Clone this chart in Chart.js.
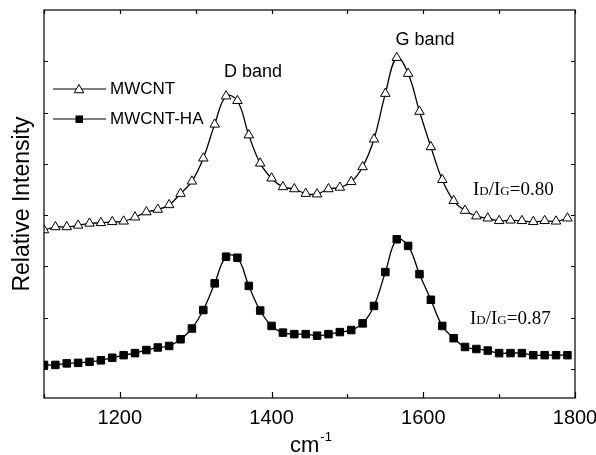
<!DOCTYPE html>
<html>
<head>
<meta charset="utf-8">
<script src="https://cdn.jsdelivr.net/npm/chart.js@4.4.0/dist/chart.umd.min.js"></script>
<style>
    html, body { margin: 0; padding: 0; background: #fff; }
</style>
</head>
<body>
<canvas id="ramanChart" width="596" height="455"></canvas>
<script>
// Raman shift (cm-1) sampled every 15 cm-1
const wavenumbers = [
    1100, 1115, 1130, 1145, 1160, 1175, 1190, 1205, 1220, 1235, 1250, 1265,
    1280, 1295, 1310, 1325, 1340, 1355, 1370, 1385, 1400, 1415, 1430, 1445,
    1460, 1475, 1490, 1505, 1520, 1535, 1550, 1565, 1580, 1595, 1610, 1625,
    1640, 1655, 1670, 1685, 1700, 1715, 1730, 1745, 1760, 1775, 1790
];

const mwcnt = [
    2.71, 2.77, 2.77, 2.80, 2.84, 2.85, 2.87, 2.88, 2.96, 3.06, 3.11, 3.20,
    3.42, 3.66, 4.11, 4.77, 5.32, 5.23, 4.56, 4.01, 3.72, 3.55, 3.51, 3.42,
    3.41, 3.51, 3.54, 3.65, 3.94, 4.48, 5.37, 6.07, 5.76, 5.02, 4.33, 3.69,
    3.28, 3.09, 2.98, 2.94, 2.89, 2.90, 2.89, 2.87, 2.89, 2.88, 2.94
];

const mwcntHa = [
    0.08, 0.08, 0.11, 0.12, 0.14, 0.17, 0.22, 0.27, 0.31, 0.37, 0.42, 0.45,
    0.58, 0.79, 1.15, 1.67, 2.19, 2.17, 1.62, 1.14, 0.84, 0.71, 0.68, 0.68,
    0.65, 0.68, 0.72, 0.76, 0.89, 1.23, 1.89, 2.53, 2.40, 1.85, 1.35, 0.84,
    0.60, 0.43, 0.39, 0.36, 0.31, 0.31, 0.31, 0.27, 0.27, 0.27, 0.27
];

const xTickLabels = [1200, 1400, 1600, 1800];
const xTickMarks = [1100, 1200, 1300, 1400, 1500, 1600, 1700, 1800];
const yTickMarks = [0, 1, 2, 3, 4, 5, 6];

const sans = "Arial, 'Liberation Sans', sans-serif";
const serif = "'Times New Roman', 'Liberation Serif', serif";

function toPoints(values) {
    return wavenumbers.map((w, i) => ({ x: w, y: values[i] }));
}

function drawTriangle(ctx, x, y, r) {
    ctx.beginPath();
    ctx.moveTo(x, y - r);
    ctx.lineTo(x + r * 0.866, y + r * 0.5);
    ctx.lineTo(x - r * 0.866, y + r * 0.5);
    ctx.closePath();
    ctx.fillStyle = '#fff';
    ctx.fill();
    ctx.stroke();
}

// box, inward ticks, legend, labels
const decorations = {
    id: 'decorations',
    afterDatasetsDraw(chart) {
        const { ctx, chartArea: a, scales: { x, y } } = chart;
        ctx.save();
        ctx.strokeStyle = '#000';
        ctx.lineWidth = 1.2;
        ctx.strokeRect(a.left, a.top, a.right - a.left, a.bottom - a.top);

        ctx.beginPath();
        xTickMarks.forEach(v => {
            const px = Math.round(x.getPixelForValue(v)) + 0.5;
            const len = xTickLabels.includes(v) ? 6 : 4;
            ctx.moveTo(px, a.bottom);
            ctx.lineTo(px, a.bottom - len);
            ctx.moveTo(px, a.top);
            ctx.lineTo(px, a.top + 4);
        });
        yTickMarks.forEach(v => {
            const py = Math.round(y.getPixelForValue(v)) + 0.5;
            ctx.moveTo(a.left, py);
            ctx.lineTo(a.left + 4, py);
            ctx.moveTo(a.right, py);
            ctx.lineTo(a.right - 4, py);
        });
        ctx.stroke();

        // legend
        ctx.lineWidth = 1.2;
        ctx.beginPath();
        ctx.moveTo(53, 89); ctx.lineTo(106, 89);
        ctx.moveTo(53, 119); ctx.lineTo(106, 119);
        ctx.stroke();
        ctx.lineWidth = 1;
        drawTriangle(ctx, 79, 90, 5.5);
        ctx.fillStyle = '#000';
        ctx.fillRect(75.5, 115.5, 7.5, 7.5);

        ctx.fillStyle = '#000';
        ctx.font = '17px ' + sans;
        ctx.textBaseline = 'middle';
        ctx.textAlign = 'left';
        ctx.fillText('MWCNT', 110, 89);
        ctx.fillText('MWCNT-HA', 110, 119);

        // band labels
        ctx.font = '18px ' + sans;
        ctx.textBaseline = 'alphabetic';
        ctx.textAlign = 'center';
        ctx.fillText('D band', 253, 77);
        ctx.fillText('G band', 425, 45);

        // intensity ratios
        ctx.textAlign = 'left';
        [['0.80', 473, 195], ['0.87', 470, 324]].forEach(([ratio, tx, ty]) => {
            const parts = [['I', 19], ['D', 13], ['/', 19], ['I', 19], ['G', 13], ['=' + ratio, 19]];
            let cx = tx;
            parts.forEach(([t, s]) => {
                ctx.font = s + 'px ' + serif;
                ctx.fillText(t, cx, ty);
                cx += ctx.measureText(t).width;
            });
        });

        // x axis title: cm^-1
        ctx.font = '22px ' + sans;
        ctx.fillText('cm', 290, 452);
        const w = ctx.measureText('cm').width;
        ctx.font = '13px ' + sans;
        ctx.fillText('-1', 290 + w + 1, 441);
        ctx.restore();
    }
};

new Chart(document.getElementById('ramanChart'), {
    type: 'line',
    data: {
        datasets: [{
            label: 'MWCNT',
            data: toPoints(mwcnt),
            borderColor: '#000',
            borderWidth: 1.3,
            tension: 0.4,
            pointStyle: 'triangle',
            pointRadius: 5.5,
            pointBorderWidth: 1,
            pointBorderColor: '#000',
            pointBackgroundColor: '#fff'
        }, {
            label: 'MWCNT-HA',
            data: toPoints(mwcntHa),
            borderColor: '#000',
            borderWidth: 1.3,
            tension: 0.4,
            pointStyle: 'rect',
            pointRadius: 5.3,
            pointBorderWidth: 1,
            pointBorderColor: '#000',
            pointBackgroundColor: '#000'
        }]
    },
    options: {
        responsive: false,
        animation: false,
        layout: { padding: { top: 10, right: 21, left: 0, bottom: 0 } },
        plugins: {
            legend: { display: false },
            tooltip: { enabled: false }
        },
        scales: {
            x: {
                type: 'linear',
                min: 1100,
                max: 1800,
                afterBuildTicks: s => { s.ticks = xTickLabels.map(v => ({ value: v })); },
                afterFit: s => { s.height = 57; s.paddingLeft = 0; s.paddingRight = 0; },
                grid: { display: false, drawTicks: false },
                border: { display: false },
                ticks: {
                    color: '#000',
                    font: { family: sans, size: 20 },
                    padding: 8,
                    maxRotation: 0,
                    autoSkip: false,
                    callback: v => String(v)
                }
            },
            y: {
                min: -0.565,
                max: 7,
                afterFit: s => { s.width = 44; },
                grid: { display: false, drawTicks: false },
                border: { display: false },
                ticks: { display: false },
                title: {
                    display: true,
                    text: 'Relative Intensity',
                    color: '#000',
                    font: { family: sans, size: 23 },
                    padding: { top: 9 }
                }
            }
        }
    },
    plugins: [decorations]
});
</script>
</body>
</html>
